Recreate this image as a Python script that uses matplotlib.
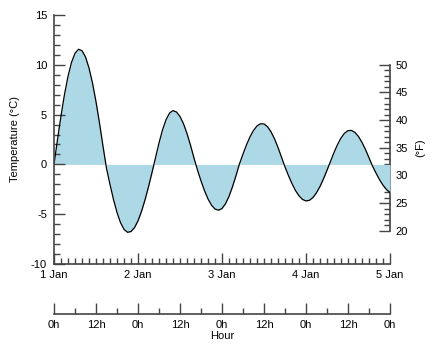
import numpy as np
import matplotlib
matplotlib.use('Agg')
import matplotlib.pyplot as plt
from matplotlib.ticker import MultipleLocator, FixedLocator

plt.rcParams['font.family'] = ['Liberation Sans', 'DejaVu Sans']
plt.rcParams['font.size'] = 8
plt.rcParams['axes.unicode_minus'] = False

# time in days since 1 Jan 0h, hourly
days = np.arange(97) / 24.0
# temperature in deg C
temp_c = [0.0, 2.50, 4.87, 7.03, 8.84, 10.24, 11.16, 11.56, 11.42, 10.79,
          9.68, 8.17, 6.30, 4.15, 1.83, -0.40, -2.02, -3.53, -4.83, -5.85,
          -6.52, -6.82, -6.74, -6.35, -5.67, -4.72, -3.57, -2.25, -0.82, 0.67,
          2.15, 3.46, 4.48, 5.15, 5.40, 5.26, 4.81, 4.08, 3.10, 1.93,
          0.64, -0.57, -1.66, -2.64, -3.47, -4.10, -4.48, -4.60, -4.43, -3.95,
          -3.21, -2.24, -1.13, 0.06, 1.04, 1.96, 2.77, 3.41, 3.86, 4.08,
          4.06, 3.79, 3.28, 2.57, 1.70, 0.73, -0.26, -1.13, -1.93, -2.63,
          -3.16, -3.52, -3.67, -3.60, -3.32, -2.85, -2.21, -1.45, -0.59, 0.30,
          1.19, 1.99, 2.65, 3.13, 3.39, 3.41, 3.21, 2.80, 2.21, 1.49,
          0.67, -0.17, -0.87, -1.53, -2.09, -2.53, -2.82]

day_ticks = [0, 1, 2, 3, 4]
day_labels = ['1 Jan', '2 Jan', '3 Jan', '4 Jan', '5 Jan']
hour_ticks = [0, 12, 24, 36, 48, 60, 72, 84, 96]
hour_labels = ['0h', '12h', '0h', '12h', '0h', '12h', '0h', '12h', '0h']

spine_col = '#444444'

fig = plt.figure(figsize=(4.38, 3.54), dpi=100)
ax = fig.add_axes([54 / 438, 1 - 264 / 354, 336 / 438, 249 / 354])

ax.fill_between(days, temp_c, 0, color='lightblue', lw=0)
ax.plot(days, temp_c, color='black', lw=0.9)

ax.set_xlim(0, 4)
ax.set_ylim(-10, 15)
for s in ['top', 'right']:
    ax.spines[s].set_visible(False)
for s in ['left', 'bottom']:
    ax.spines[s].set_color(spine_col)
    ax.spines[s].set_linewidth(1.2)

ax.set_xticks(day_ticks)
ax.set_xticklabels(day_labels)
ax.xaxis.set_minor_locator(MultipleLocator(1 / 12))
ax.yaxis.set_major_locator(MultipleLocator(5))
ax.yaxis.set_minor_locator(MultipleLocator(1))
ax.tick_params(which='both', direction='in', color=spine_col, width=1)
ax.tick_params(which='major', length=8)
ax.tick_params(which='minor', length=4.5)
ax.tick_params(axis='y', which='major', pad=5)
ax.tick_params(axis='x', which='major', pad=4)
ax.set_ylabel('Temperature (°C)', labelpad=8)

# Fahrenheit axis on the right
axf = ax.secondary_yaxis('right', functions=(lambda c: c * 9 / 5 + 32,
                                              lambda f: (f - 32) * 5 / 9))
axf.yaxis.set_major_locator(FixedLocator([20, 25, 30, 35, 40, 45, 50]))
axf.yaxis.set_minor_locator(FixedLocator(list(range(20, 51))))
axf.spines['right'].set_bounds(20, 50)
axf.spines['right'].set_color(spine_col)
axf.spines['right'].set_linewidth(1.2)
axf.tick_params(which='both', direction='in', color=spine_col, width=1)
axf.tick_params(which='major', length=8, pad=4)
axf.tick_params(which='minor', length=4.5)
fig.text(420 / 438, 1 - 148 / 354, '(°F)', rotation=90,
         ha='center', va='center')

# hour axis below
axh = ax.twiny()
axh.set_xlim(0, 96)
axh.xaxis.set_ticks_position('bottom')
axh.xaxis.set_label_position('bottom')
axh.spines['bottom'].set_position(('outward', 36))
for s in ['top', 'right', 'left']:
    axh.spines[s].set_visible(False)
axh.spines['bottom'].set_color(spine_col)
axh.spines['bottom'].set_linewidth(1.2)
axh.set_xticks(hour_ticks)
axh.set_xticklabels(hour_labels)
axh.xaxis.set_minor_locator(MultipleLocator(6))
axh.tick_params(which='both', direction='in', color=spine_col, width=1)
axh.tick_params(which='major', length=8, pad=4)
axh.tick_params(which='minor', length=4.5)
axh.set_xlabel('Hour', labelpad=1)

fig.savefig('out.png', dpi=100)
